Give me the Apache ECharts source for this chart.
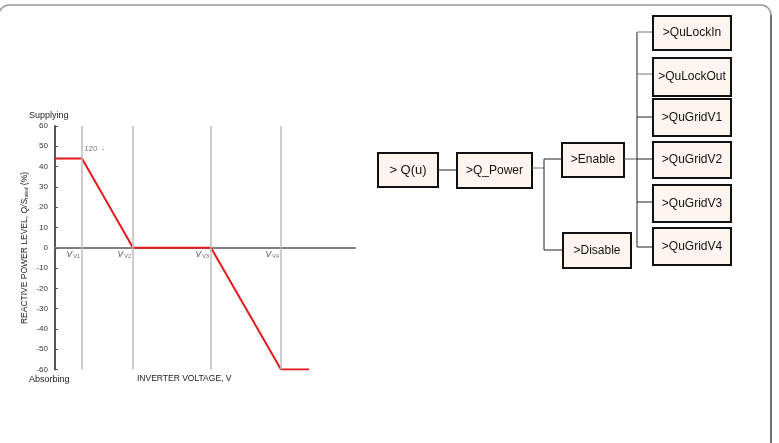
<!DOCTYPE html>
<html>
<head>
<meta charset="utf-8">
<script src="https://cdn.jsdelivr.net/npm/echarts@6/dist/echarts.min.js"></script>
<style>
  html, body { margin: 0; padding: 0; background: #fff; }
  #main { width: 779px; height: 443px; }
</style>
</head>
<body>
<div id="main"></div>
<script>
// Q(u) 曲线数据
var voltage = [0, 27, 78, 156, 226, 254];
var reactive = [44, 44, 0, 0, -60, -60];
var vPoints = [27, 78, 156, 226];
var vNames = ['V1', 'V2', 'V3', 'V4'];
var yMin = -60, yMax = 60, yStep = 10;

// 菜单树
var rootItems = ['> Q(u)', '>Q_Power'];
var switchItems = ['>Enable', '>Disable'];
var subItems = ['>QuLockIn', '>QuLockOut', '>QuGridV1', '>QuGridV2', '>QuGridV3', '>QuGridV4'];

var FONT = '"Liberation Sans", Arial, sans-serif';
var lineData = voltage.map(function (v, i) { return [v, reactive[i]]; });

var box = function (x, y, w, h, text, size) {
    return {
        type: 'group',
        children: [
            { type: 'rect', shape: { x: x, y: y, width: w, height: h },
              style: { fill: '#fdf5ee', stroke: '#111', lineWidth: 2 } },
            { type: 'text', x: x + w / 2, y: y + h / 2,
              style: { text: text, fill: '#111', font: size + 'px ' + FONT,
                       align: 'center', verticalAlign: 'middle' } }
        ]
    };
};
var seg = function (x1, y1, x2, y2, color) {
    return { type: 'line', shape: { x1: x1, y1: y1, x2: x2, y2: y2 },
             style: { stroke: color || '#222', lineWidth: 1 } };
};
var label = function (x, y, text, size) {
    return { type: 'text', x: x, y: y,
             style: { text: text, fill: '#222', font: size + 'px ' + FONT,
                      align: 'left', verticalAlign: 'middle' } };
};

var graphics = [];
// 外框
graphics.push({ type: 'rect', shape: { x: -1, y: 5, width: 772, height: 460, r: 10 },
                style: { fill: 'none', stroke: '#9a9a9a', lineWidth: 1.5 } });
graphics.push(seg(771, 15, 771, 443, '#333'));

// 文本
graphics.push(label(29, 116, 'Supplying', 9));
graphics.push(label(29, 380, 'Absorbing', 9));
graphics.push(label(137, 379, 'INVERTER VOLTAGE, V', 8.5));
graphics.push({ type: 'text', x: 84, y: 149,
                style: { text: '120  -', fill: '#777', font: '8px ' + FONT, verticalAlign: 'middle' } });
graphics.push({ type: 'text', x: 25, y: 248, rotation: Math.PI / 2,
                style: { text: 'REACTIVE POWER LEVEL, {i|Q/S}{s|rated} (%)', fill: '#222',
                         font: '8.5px ' + FONT, align: 'center', verticalAlign: 'middle',
                         rich: { i: { fontStyle: 'italic', fontSize: 8.5, fontFamily: FONT },
                                 s: { fontSize: 5, fontFamily: FONT, padding: [4, 0, 0, 0] } } } });

// 树形菜单
graphics.push(box(378, 153, 60, 34, rootItems[0], 13));
graphics.push(box(457, 153, 75, 35, rootItems[1], 12));
graphics.push(box(562, 143, 62, 34, switchItems[0], 12));
graphics.push(box(563, 233, 68, 35, switchItems[1], 12));
graphics.push(seg(438, 170, 457, 170));
graphics.push(seg(532, 168, 544, 168, '#777'));
graphics.push(seg(544, 159, 544, 250));
graphics.push(seg(544, 159, 562, 159));
graphics.push(seg(544, 250, 563, 250));
graphics.push(seg(624, 159, 637, 159, '#555'));
var subTops = [16, 58, 99, 142, 185, 228];
var subH = [34, 38, 37, 36, 37, 37];
var subLinks = [32, 74, 117, 159, 202, 247];
graphics.push(seg(637, subLinks[0], 637, subLinks[5]));
subItems.forEach(function (name, i) {
    graphics.push(seg(637, subLinks[i], 653, subLinks[i], i < 2 ? '#777' : '#222'));
    graphics.push(box(653, subTops[i], 78, subH[i], name, 12));
});

var chart = echarts.init(document.getElementById('main'));
var option = {
    animation: false,
    grid: { left: 55, top: 126, width: 300, height: 243.5 },
    xAxis: {
        type: 'value', min: 0, max: 300,
        axisLine: { onZero: true, lineStyle: { color: '#808080', width: 2 } },
        axisTick: { show: false },
        splitLine: { show: false },
        axisLabel: { show: false }
    },
    yAxis: {
        type: 'value', min: yMin, max: yMax, interval: yStep,
        axisLine: { show: true, onZero: false, lineStyle: { color: '#555', width: 2 } },
        axisTick: { show: true, inside: true, length: 3, lineStyle: { color: '#555' } },
        splitLine: { show: false },
        axisLabel: { fontSize: 8, color: '#333', margin: 7, fontFamily: FONT }
    },
    series: [{
        type: 'line',
        data: lineData,
        symbol: 'none',
        lineStyle: { color: '#e3191c', width: 2 },
        z: 3,
        markLine: {
            silent: true,
            symbol: 'none',
            label: { show: false },
            lineStyle: { color: '#bdbdbd', width: 1.5, type: 'solid' },
            data: vPoints.map(function (v) { return { xAxis: v }; })
        }
    }, {
        // V 点标签，位于零轴下方
        type: 'scatter',
        data: vPoints.map(function (v) { return [v, 0]; }),
        symbolSize: 0,
        silent: true,
        label: {
            show: true, position: 'bottom', align: 'right', distance: 2, offset: [-2, 0],
            formatter: function (p) {
                return '{v|V}{s|' + vNames[p.dataIndex] + '}';
            },
            rich: {
                v: { fontSize: 8.5, fontStyle: 'italic', color: '#222', fontFamily: FONT },
                s: { fontSize: 5.5, color: '#444', fontFamily: FONT, padding: [4, 0, 0, 1] }
            }
        }
    }],
    graphic: graphics
};
chart.setOption(option);
</script>
</body>
</html>
